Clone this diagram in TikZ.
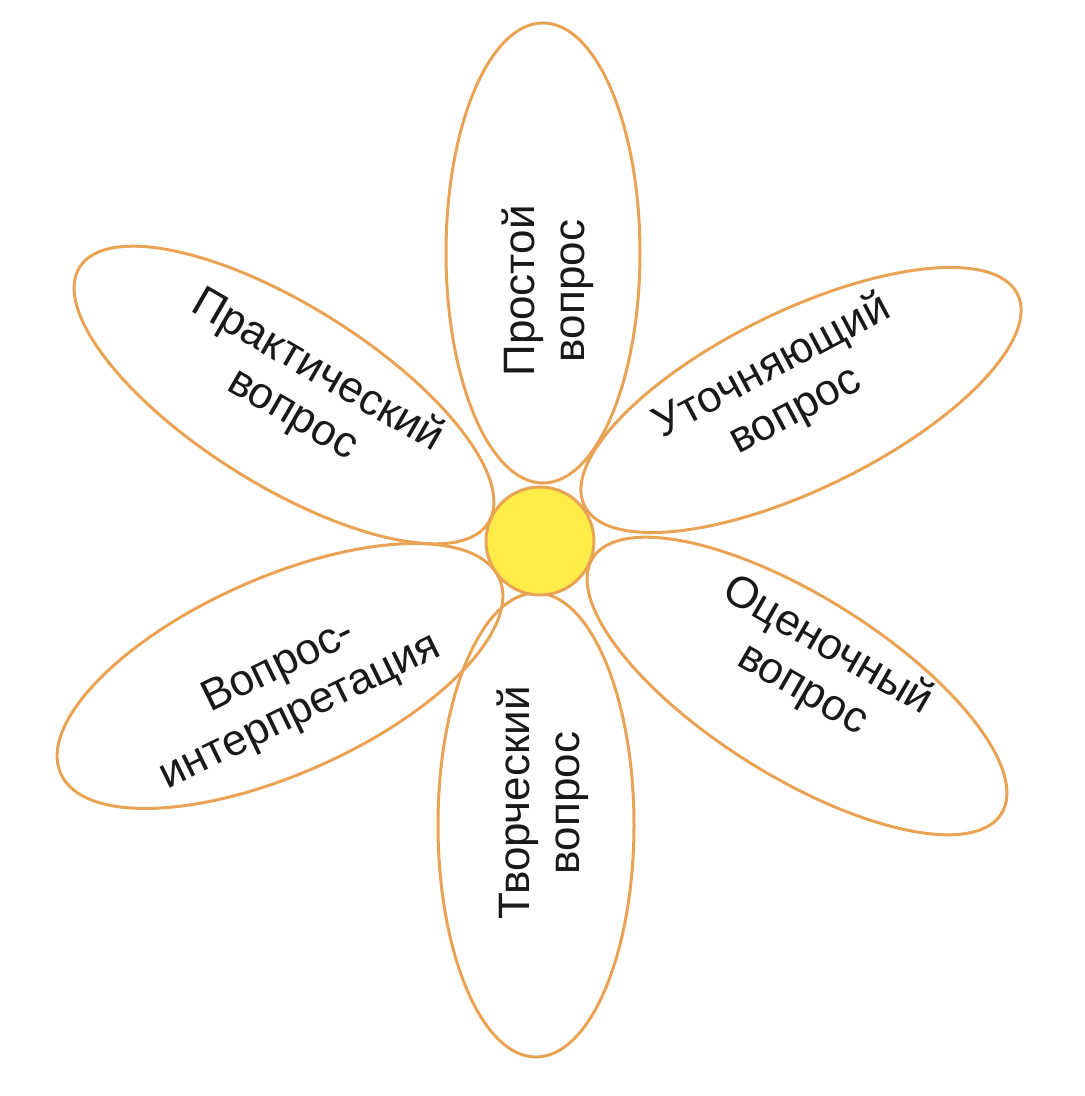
\documentclass[tikz,border=0pt]{standalone}
\usepackage{fontspec}
\setmainfont{Liberation Sans}
\usepackage{tikz}
\usetikzlibrary{shapes.geometric}
\definecolor{petalorange}{RGB}{232,163,85}
\definecolor{heartyellow}{RGB}{255,236,72}

\begin{document}
\begin{tikzpicture}[x=.5pt,y=.5pt,
  petal/.style={ellipse,draw=petalorange,line width=1.5pt,inner sep=0pt},
  word/.style={align=center,inner sep=0pt,text=black!90,font=\fontsize{22}{25}\selectfont}]
\useasboundingbox (-540,-555) rectangle (544,541);
\node[petal,minimum width=230pt,minimum height=97pt,rotate=90] (simple) at (3,288) {};
\node[petal,minimum width=241pt,minimum height=89pt,rotate=26] (clarify) at (261,141) {};
\node[petal,minimum width=241pt,minimum height=90pt,rotate=-32] (assess) at (257,-145) {};
\node[petal,minimum width=232pt,minimum height=98pt,rotate=90] (create) at (-4,-284) {};
\node[petal,minimum width=240pt,minimum height=98pt,rotate=24] (interpret) at (-260,-135) {};
\node[petal,minimum width=241pt,minimum height=90pt,rotate=-32] (practice) at (-256,146) {};
\node[circle,draw=petalorange,fill=heartyellow,line width=1.5pt,minimum size=54pt,inner sep=0pt] (heart) at (0,0) {};
\node[word,rotate=90] (simpletext) at (8,250) {Простой\\вопрос};
\node[word,rotate=28] (clarifytext) at (244,152) {Уточняющий\\вопрос};
\node[word,rotate=-30] (assesstext) at (275,-127) {Оценочный\\вопрос};
\node[word,rotate=90] (createtext) at (3,-262) {Творческий\\вопрос};
\node[word,rotate=26] (interprettext) at (-250,-149) {Вопрос-\\интерпретация};
\node[word,rotate=-30] (practicetext) at (-235,148) {Практический\\вопрос};
\end{tikzpicture}
\end{document}
